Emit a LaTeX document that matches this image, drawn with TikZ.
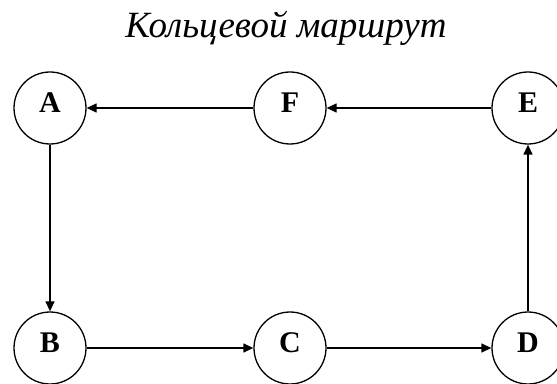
\documentclass[tikz,border=0pt]{standalone}
\usepackage{fontspec}
\setmainfont{Liberation Serif}
\usetikzlibrary{arrows.meta}
\begin{document}
\begin{tikzpicture}[x=1pt,y=1pt,
  stop/.style={circle,draw,line width=1.3pt,minimum size=72pt,inner sep=0pt,
    text depth=11pt,font=\fontsize{30}{30}\selectfont\bfseries},
  link/.style={line width=1.3pt,-{Triangle[length=10pt,width=9pt]}}]
\useasboundingbox (0,0) rectangle (557,383);
\clip (0,0) rectangle (557,383);
\node[font=\fontsize{37}{37}\selectfont\itshape,anchor=base] (title) at (286,345) {Кольцевой маршрут};
\node[stop] (A) at (50,275) {A};
\node[stop] (F) at (290,275) {F};
\node[stop] (E) at (528,275) {E};
\node[stop] (B) at (50,35) {B};
\node[stop] (C) at (290,35) {C};
\node[stop] (D) at (528,35) {D};
\draw[link] (E) -- (F);
\draw[link] (F) -- (A);
\draw[link] (A) -- (B);
\draw[link] (B) -- (C);
\draw[link] (C) -- (D);
\draw[link] (D) -- (E);
\end{tikzpicture}
\end{document}
